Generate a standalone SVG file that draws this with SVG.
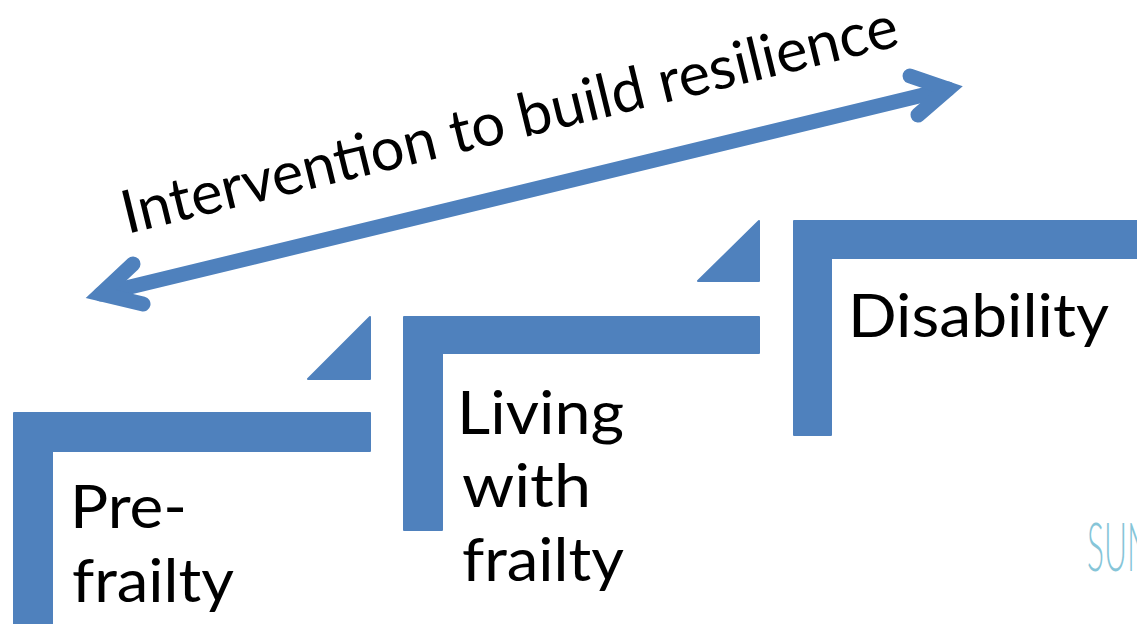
<svg xmlns="http://www.w3.org/2000/svg" width="1137" height="624" viewBox="0 0 1137 624">
  <style>
    .step { fill: #4f81bd; stroke: #4f81bd; stroke-width: 2; stroke-linejoin: round; }
    .label { font-family: Lato, "Open Sans", "Liberation Sans", sans-serif; font-size: 60px; fill: #000000; }
    .arrow { fill: none; stroke: #4f81bd; stroke-width: 15; stroke-linecap: round; stroke-linejoin: miter; stroke-miterlimit: 10; }
  </style>
  <rect width="1137" height="624" fill="#ffffff"/>

  <!-- step 1 -->
  <g id="pre-frailty">
    <path class="step" d="M14,413 H370 V451 H52 V630 H14 Z"/>
    <path class="step" d="M370,317 V379 H308 Z"/>
    <text class="label" x="70" y="528" textLength="117" lengthAdjust="spacingAndGlyphs">Pre-</text>
    <text class="label" x="72" y="602" textLength="162" lengthAdjust="spacingAndGlyphs">frailty</text>
  </g>

  <!-- step 2 -->
  <g id="living-with-frailty">
    <path class="step" d="M404,317 H759 V353 H442 V530 H404 Z"/>
    <path class="step" d="M759,221 V281 H698 Z"/>
    <text class="label" x="457" y="434" textLength="167" lengthAdjust="spacingAndGlyphs">Living</text>
    <text class="label" x="462" y="507" textLength="129" lengthAdjust="spacingAndGlyphs">with</text>
    <text class="label" x="462" y="581" textLength="162" lengthAdjust="spacingAndGlyphs">frailty</text>
  </g>

  <!-- step 3 -->
  <g id="disability">
    <path class="step" d="M794,221 H1145 V258 H831 V435 H794 Z"/>
    <text class="label" x="848" y="337" textLength="261" lengthAdjust="spacingAndGlyphs">Disability</text>
  </g>

  <!-- double-headed arrow across the steps -->
  <g id="connectors">
    <path class="arrow" d="M101,294 L948,89"/>
    <path class="arrow" d="M133,264 L101,294 L143,304"/>
    <path class="arrow" d="M910,76 L948,89 L918,115"/>
  </g>

  <g id="intervention-label">
    <text class="label" transform="translate(127,234) rotate(-13.7)" x="0" y="0" textLength="797" lengthAdjust="spacingAndGlyphs">Intervention to build resilience</text>
  </g>

  <!-- logo fragment at the right edge -->
  <text x="1087" y="571" font-family="Lato, 'Liberation Sans', sans-serif" font-weight="300" font-size="67" fill="#86c5d8" textLength="64" lengthAdjust="spacingAndGlyphs">SUN</text>
</svg>
